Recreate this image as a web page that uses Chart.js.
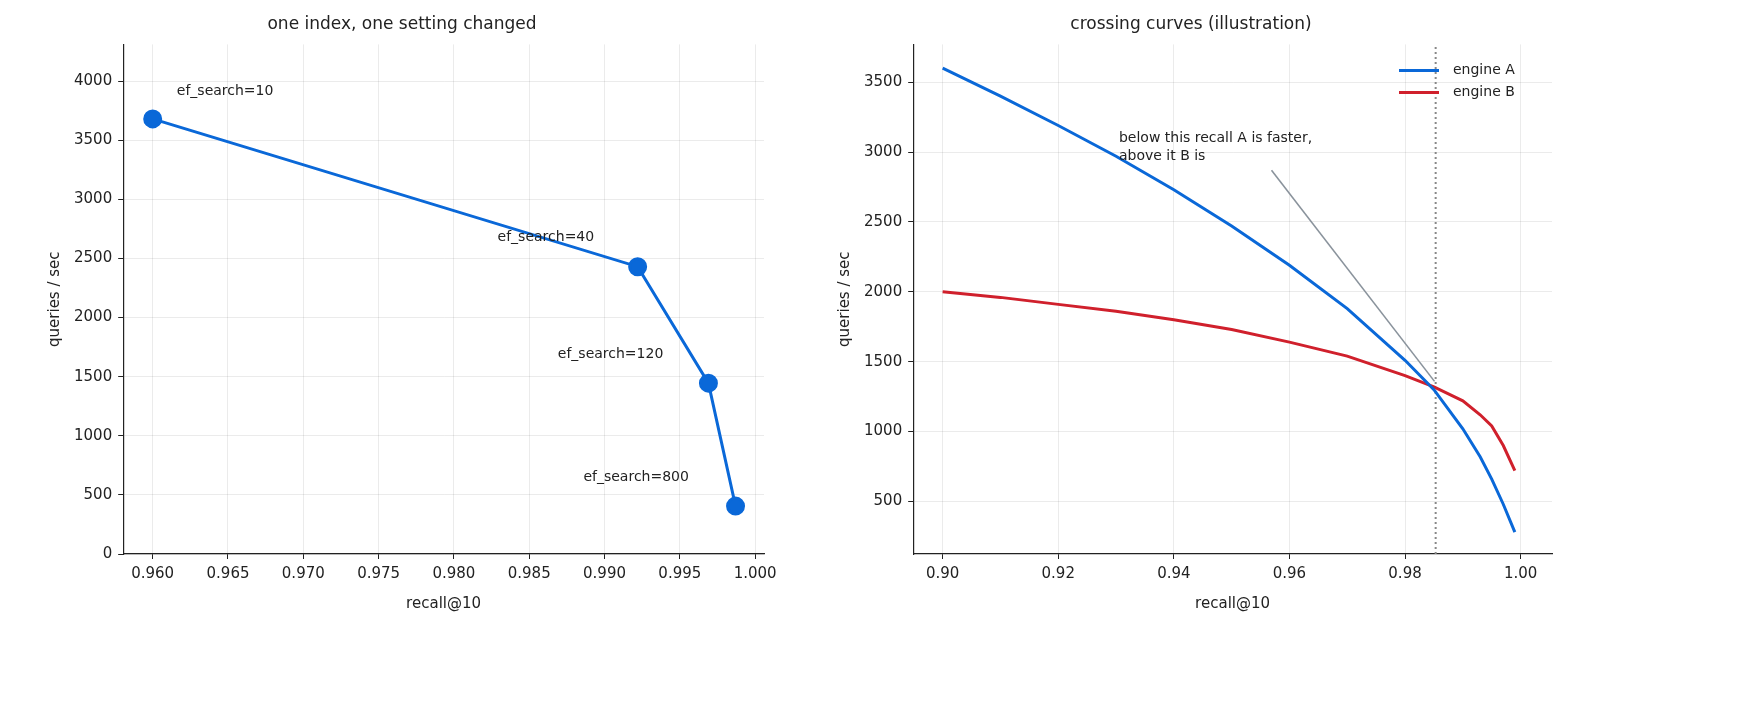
<!DOCTYPE html>
<html><head><meta charset="utf-8">
<script src="https://cdn.jsdelivr.net/npm/chart.js@4.4.1/dist/chart.umd.min.js"></script>
<style>
html,body{margin:0;padding:0;background:#fff;overflow:hidden;}
#wrap{position:relative;width:1746px;height:712px;}
canvas{position:absolute;top:0;}
#a{left:0;} #b{left:790px;}
</style></head><body>
<div id="wrap"><canvas id="a" width="873" height="712" style="width:873px;height:712px"></canvas><canvas id="b" width="956" height="712" style="width:956px;height:712px"></canvas></div>
<script>
// Left chart data
const leftRecall = [0.9600, 0.9922, 0.9969, 0.9987];
const leftQps = [3680, 2430, 1445, 405];
const leftLabels = ["ef_search=10", "ef_search=40", "ef_search=120", "ef_search=800"];
const leftLabelPos = [[0.9616, 3910], [0.9829, 2680], [0.9869, 1690], [0.9886, 650]];
// Right chart data
const rightRecall = [0.900,0.910,0.920,0.930,0.940,0.950,0.960,0.970,0.980,0.985,0.990,0.993,0.995,0.997,0.999];
const engineA = [3600,3400,3190,2970,2730,2470,2190,1880,1510,1300,1020,820,660,480,280];
const engineB = [2000,1960,1910,1860,1800,1730,1640,1540,1400,1320,1220,1120,1040,900,720];
const crossX = 0.9853;
const noteLine = [[0.9569, 2869], [0.9851, 1359]];
const noteText = ["below this recall A is faster,", "above it B is"];

const FONT = "'DejaVu Sans', sans-serif";
Chart.defaults.font.family = FONT;
Chart.defaults.color = '#222';
Chart.defaults.animation = false;
Chart.defaults.devicePixelRatio = 1;

const textPlugin = {
  id: 'texts',
  afterDatasetsDraw(chart, args, opts) {
    const ctx = chart.ctx, xs = chart.scales.x, ys = chart.scales.y;
    ctx.save();
    ctx.fillStyle = '#222';
    ctx.font = (opts.size||13) + 'px ' + FONT;
    ctx.textAlign = 'left'; ctx.textBaseline = 'middle';
    (opts.items||[]).forEach(it => {
      const x = xs.getPixelForValue(it.x), y = ys.getPixelForValue(it.y);
      it.lines.forEach((l, i) => ctx.fillText(l, x, y + i * 18));
    });
    if (opts.legend) {
      const ca = chart.chartArea;
      opts.legend.forEach((l, i) => {
        const y = ca.top + 26 + i * 22, x0 = ca.right - 153;
        ctx.strokeStyle = l.c; ctx.lineWidth = 3;
        ctx.beginPath(); ctx.moveTo(x0, y); ctx.lineTo(x0 + 40, y); ctx.stroke();
        ctx.font = '14px ' + FONT;
        ctx.fillText(l.t, x0 + 54, y);
      });
    }
    ctx.restore();
  }
};

function scaleOpts(min, max, step, dec, title) {
  return {
    type: 'linear', min, max,
    afterBuildTicks(ax) {
      const t = [];
      for (let v = Math.ceil(min / step - 1e-9) * step; v <= max + 1e-9; v += step) t.push({value: +v.toFixed(6)});
      ax.ticks = t;
    },
    ticks: {callback: v => Number(v).toFixed(dec), font: {size: 15}, color: '#222', padding: 6, maxRotation: 0, autoSkip: false},
    grid: {color: 'rgba(0,0,0,0.08)', tickLength: 5, tickColor: '#222'},
    border: {color: '#222', width: 1.2},
    title: {display: true, text: title, font: {size: 15}, color: '#222', padding: {top: 6}}
  };
}

new Chart(document.getElementById('a'), {
  type: 'scatter',
  data: {datasets: [{
    data: leftRecall.map((x, i) => ({x, y: leftQps[i]})),
    showLine: true, borderColor: '#0a68d8', backgroundColor: '#0a68d8',
    borderWidth: 3, pointRadius: 8, pointHoverRadius: 8
  }]},
  options: {
    responsive: false, maintainAspectRatio: false,
    layout: {padding: {left: 40, right: 109, top: 4, bottom: 95}},
    plugins: {
      legend: {display: false}, tooltip: {enabled: false},
      title: {display: true, text: 'one index, one setting changed', font: {size: 17, weight: 'normal'}, color: '#222', padding: {top: 10, bottom: 10}},
      texts: {size: 14, items: leftLabels.map((t, i) => ({x: leftLabelPos[i][0], y: leftLabelPos[i][1], lines: [t]}))}
    },
    scales: {
      x: scaleOpts(0.95804, 1.00059, 0.005, 3, 'recall@10'),
      y: scaleOpts(0, 4310, 500, 0, 'queries / sec')
    }
  },
  plugins: [textPlugin]
});

new Chart(document.getElementById('b'), {
  type: 'scatter',
  data: {datasets: [
    {data: rightRecall.map((x, i) => ({x, y: engineA[i]})), showLine: true, borderColor: '#0a68d8', borderWidth: 3, pointRadius: 0},
    {data: rightRecall.map((x, i) => ({x, y: engineB[i]})), showLine: true, borderColor: '#d0202c', borderWidth: 3, pointRadius: 0},
    {data: [{x: crossX, y: 124}, {x: crossX, y: 3770}], showLine: true, borderColor: '#888', borderWidth: 2, borderDash: [2, 3], pointRadius: 0},
    {data: noteLine.map(p => ({x: p[0], y: p[1]})), showLine: true, borderColor: '#8a939c', borderWidth: 1.6, pointRadius: 0}
  ]},
  options: {
    responsive: false, maintainAspectRatio: false,
    layout: {padding: {left: 40, right: 194, top: 4, bottom: 95}},
    plugins: {
      legend: {display: false}, tooltip: {enabled: false},
      title: {display: true, text: 'crossing curves (illustration)', font: {size: 17, weight: 'normal'}, color: '#222', padding: {top: 10, bottom: 10}},
      texts: {size: 14, items: [{x: 0.9305, y: 3100, lines: noteText}],
        legend: [{t: 'engine A', c: '#0a68d8'}, {t: 'engine B', c: '#d0202c'}]}
    },
    scales: {
      x: scaleOpts(0.8949, 1.00543, 0.02, 2, 'recall@10'),
      y: scaleOpts(124, 3770, 500, 0, 'queries / sec')
    }
  },
  plugins: [textPlugin]
});
</script>
</body></html>
